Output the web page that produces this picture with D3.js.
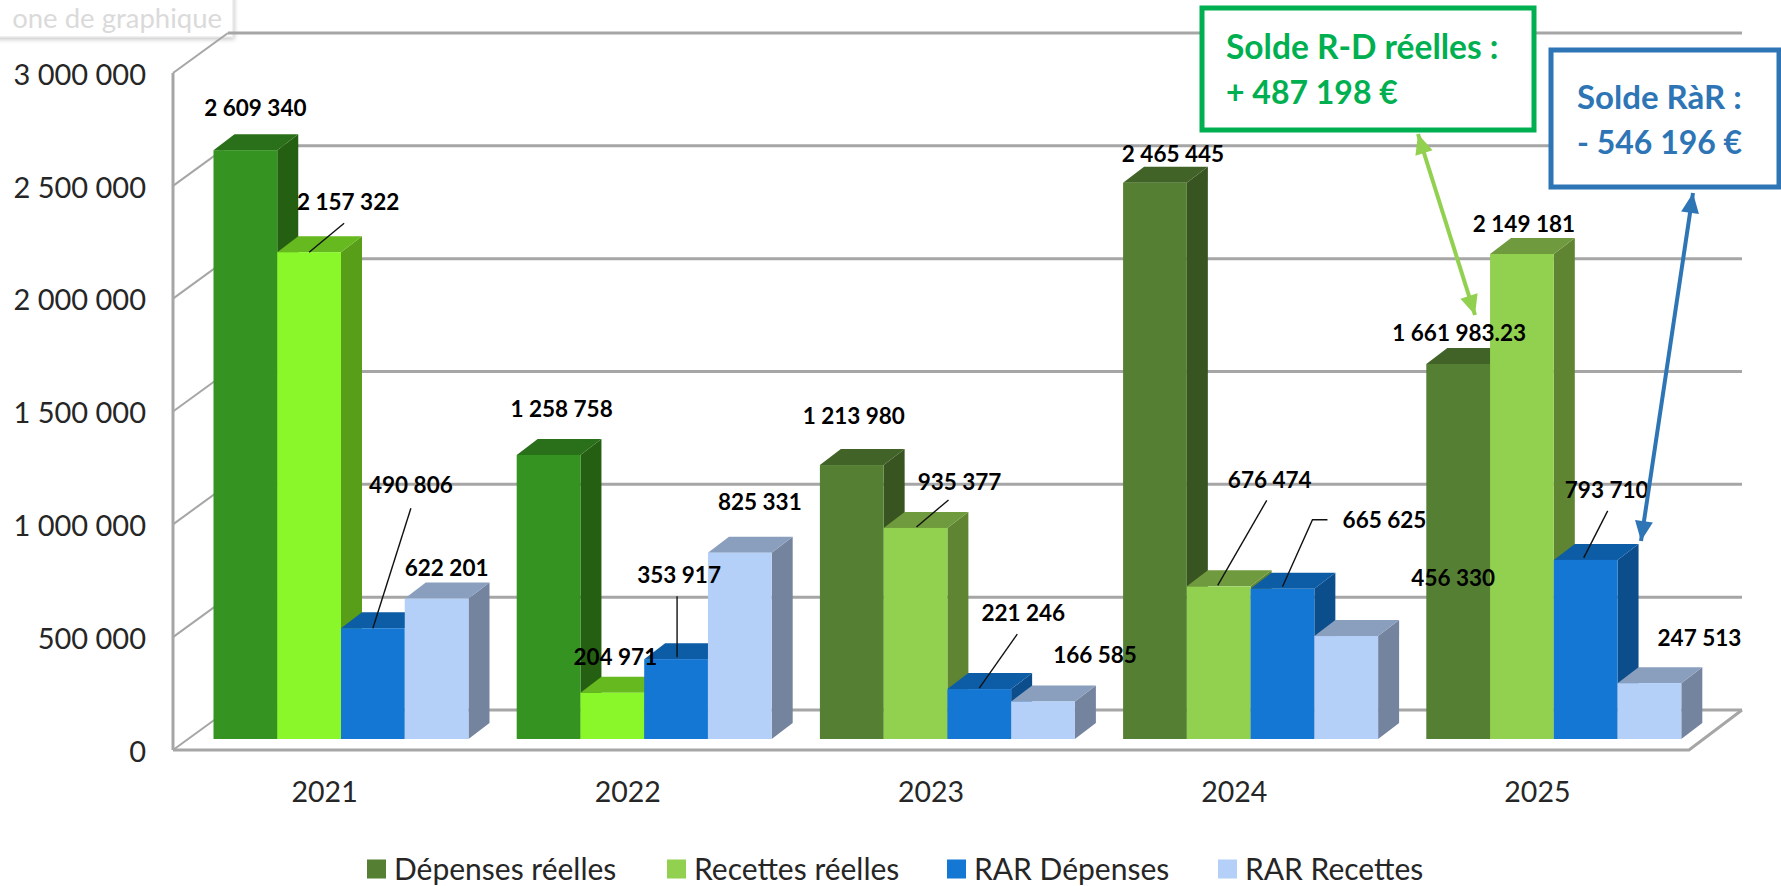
<!DOCTYPE html>
<html lang="fr"><head><meta charset="utf-8">
<script src="https://cdn.jsdelivr.net/npm/d3@7"></script>
<style>html,body{margin:0;padding:0;background:#fff;overflow:hidden}svg{display:block}text{font-family:Lato,"Open Sans",sans-serif}</style>
</head><body><svg id="c" width="1781" height="886"></svg>
<script>
const years=["2021","2022","2023","2024","2025"];
const seriesNames=["Dépenses réelles","Recettes réelles","RAR Dépenses","RAR Recettes"];
const depensesReelles=[2609340,1258758,1213980,2465445,1661983.23];
const recettesReelles=[2157322,204971,935377,676474,2149181];
const rarDepenses=[490806,353917,221246,665625,793710];
const rarRecettes=[622201,825331,166585,456330,247513];
const labelTexts=[
 ["2 609 340","1 258 758","1 213 980","2 465 445","1 661 983.23"],
 ["2 157 322","204 971","935 377","676 474","2 149 181"],
 ["490 806","353 917","221 246","665 625","793 710"],
 ["622 201","825 331","166 585","456 330","247 513"]];
const yTicks=[0,500000,1000000,1500000,2000000,2500000,3000000];
const allValues=[depensesReelles,recettesReelles,rarDepenses,rarRecettes];

// styles
const palette=[
 {front:"#558033",top:"#426327",side:"#385420"},
 {front:"#92d050",top:"#6f9a3d",side:"#5f8533"},
 {front:"#1477d4",top:"#0d5ca6",side:"#0c4e8c"},
 {front:"#b4cff8",top:"#8a9fbe",side:"#74849f"}];
const earlyPalette=[
 {front:"#359322",top:"#2a701a",side:"#245f12"},
 {front:"#8af72a",top:"#66b91f",side:"#589e18"}];
const earlyYears=["2021","2022"];

// label placement relative to the top-centre of each bar's front face [series][year]
const labelOffset=[
 [[10,-42],[13,-46],[2,-49],[18,-29],[1,-31]],
 [[39,-50],[3,-36],[44,-46],[51,-106],[2,-30]],
 [[38,-143],[3,-84],[44,-76],[102,-69],[21,-70]],
 [[10,-30],[20,-51],[52,-46],[107,-58],[50,-45]]];
const leaders=[
 {s:1,y:0,pts:[[0,0],[35,-29]]},
 {s:2,y:0,pts:[[0,0],[38,-120]]},
 {s:2,y:1,pts:[[1,-2],[1,-63]]},
 {s:1,y:2,pts:[[1,-1],[33,-28]]},
 {s:2,y:2,pts:[[0,-1],[38,-55]]},
 {s:1,y:3,pts:[[-1,-1],[48,-86]]},
 {s:2,y:3,pts:[[0,-2],[30,-69],[45,-69]]},
 {s:2,y:4,pts:[[-2,-2],[22,-49]]}];

const svg=d3.select("#c");
const wallDx=55, wallDy=-40, barDx=21, barDy=-16;
const yFront=d3.scaleLinear().domain([0,3000000]).range([750,73]);
const yBar=d3.scaleLinear().domain([0,3000000]).range([739,62]);
const xBand=d3.scaleBand().domain(years).range([173,1689]);
const xSeries=d3.scaleBand().domain(seriesNames).range([40.5,295.5]);
const grid="#a6a6a6";

// placeholder tooltip
const defs=svg.append("defs");
const f=defs.append("filter").attr("id","sh").attr("x","-5%").attr("y","-20%").attr("width","110%").attr("height","150%");
f.append("feDropShadow").attr("dx",1).attr("dy",2).attr("stdDeviation",2).attr("flood-color","#000").attr("flood-opacity",.22);
svg.append("rect").attr("x",-10).attr("y",-10).attr("width",243).attr("height",47).attr("fill","#fff").attr("stroke","#e2e2e2").attr("filter","url(#sh)");
svg.append("text").attr("x",222).attr("y",28).attr("text-anchor","end").attr("font-size",27.5).attr("fill","#dadada").text("one de graphique");

// walls
const gridG=svg.append("g").attr("fill","none").attr("stroke",grid);
gridG.selectAll("line.back").data(yTicks).join("line").attr("class","back")
 .attr("x1",173+wallDx).attr("x2",1689+wallDx+(-2))
 .attr("y1",d=>yFront(d)+wallDy).attr("y2",d=>yFront(d)+wallDy).attr("stroke-width",3);
gridG.selectAll("line.slant").data(yTicks).join("line").attr("class","slant")
 .attr("x1",173).attr("x2",173+wallDx).attr("y1",d=>yFront(d)).attr("y2",d=>yFront(d)+wallDy).attr("stroke-width",2);
gridG.append("line").attr("x1",173).attr("x2",173).attr("y1",yFront(3000000)).attr("y2",yFront(0)).attr("stroke-width",3);
gridG.append("polyline").attr("stroke-width",3)
 .attr("points",[[173,yFront(0)],[1689,yFront(0)],[1687+wallDx,yFront(0)+wallDy]].join(" "));

// axes
const axisY=d3.axisLeft(yFront).tickValues(yTicks).tickSize(0).tickPadding(27)
 .tickFormat(d=>d3.format(",")(d).replace(/,/g," "));
const gy=svg.append("g").attr("transform","translate(173,2)").call(axisY);
gy.select(".domain").remove();
gy.selectAll("text").attr("font-size",29).attr("fill","#262626").style("font-family","Lato");
const axisX=d3.axisBottom(xBand).tickSize(0).tickPadding(0);
const gx=svg.append("g").attr("transform","translate(0,782)").call(axisX);
gx.select(".domain").remove();
gx.selectAll("text").attr("font-size",28.5).attr("fill","#262626").style("font-family","Lato");

// bars
const colorOf=(s,y)=>earlyYears.includes(y)&&earlyPalette[s]?earlyPalette[s]:palette[s];
const barData=[];
years.forEach((yr,yi)=>allValues.forEach((vals,s)=>barData.push({yr,yi,s,v:vals[yi]})));
const xL=d=>xBand(d.yr)+xSeries(seriesNames[d.s]);
const bw=xSeries.bandwidth();
const bars=svg.append("g").selectAll("g").data(barData).join("g");
bars.append("polygon").attr("fill",d=>colorOf(d.s,d.yr).side).attr("points",d=>{
 const x=xL(d)+bw,t=yBar(d.v),b=yBar(0);
 return [[x,t],[x+barDx,t+barDy],[x+barDx,b+barDy],[x,b]].join(" ");});
bars.append("polygon").attr("fill",d=>colorOf(d.s,d.yr).top).attr("points",d=>{
 const x=xL(d),t=yBar(d.v);
 return [[x,t],[x+barDx,t+barDy],[x+bw+barDx,t+barDy],[x+bw,t]].join(" ");});
bars.append("rect").attr("x",xL).attr("y",d=>yBar(d.v)).attr("width",bw)
 .attr("height",d=>yBar(0)-yBar(d.v)).attr("fill",d=>colorOf(d.s,d.yr).front);

// leader lines
const barTop=(s,yi)=>{const yr=years[yi];return [xBand(yr)+xSeries(seriesNames[s])+bw/2,yBar(allValues[s][yi])];};
svg.append("g").selectAll("polyline").data(leaders).join("polyline")
 .attr("fill","none").attr("stroke","#111").attr("stroke-width",1.4)
 .attr("points",d=>{const [x,y]=barTop(d.s,d.y);return d.pts.map(p=>[x+p[0],y+p[1]]).join(" ");});

// data labels
svg.append("g").selectAll("text").data(barData).join("text")
 .attr("x",d=>barTop(d.s,d.yi)[0]+labelOffset[d.s][d.yi][0])
 .attr("y",d=>barTop(d.s,d.yi)[1]+labelOffset[d.s][d.yi][1])
 .attr("dy","0.35em").attr("text-anchor","middle").attr("font-size",22.5).attr("font-weight",700).attr("fill","#000")
 .text(d=>labelTexts[d.s][d.yi]);

// annotations
const annotations=[
 {x:1202,y:8,w:332,h:122,c:"#00b050",lines:["Solde R-D réelles :","+ 487 198 €"],tx:1226,ty:[59,104],fs:[33.5,32]},
 {x:1551,y:50,w:228,h:137,c:"#2e75b6",lines:["Solde RàR :","- 546 196 €"],tx:1577,ty:[109,154],fs:[33,32]}];
const an=svg.append("g").selectAll("g").data(annotations).join("g");
an.append("rect").attr("x",d=>d.x).attr("y",d=>d.y).attr("width",d=>d.w).attr("height",d=>d.h)
 .attr("fill","#fff").attr("stroke",d=>d.c).attr("stroke-width",5);
an.each(function(d){d3.select(this).selectAll("text").data(d.lines).join("text")
 .attr("x",d.tx).attr("y",(l,i)=>d.ty[i]).attr("font-size",(l,i)=>d.fs[i]).attr("font-weight",700).attr("fill",d.c).text(l=>l);});

// arrows
const arrows=[
 {from:[1418,134],to:[1475,315],c:"#92d050"},
 {from:[1693,193],to:[1641,541],c:"#2e75b6"}];
function head(p,q,len,wd){const a=Math.atan2(q[1]-p[1],q[0]-p[0]);
 const b=[q[0]-len*Math.cos(a),q[1]-len*Math.sin(a)];
 const n=[-Math.sin(a)*wd,Math.cos(a)*wd];
 return [q,[b[0]+n[0],b[1]+n[1]],[b[0]-n[0],b[1]-n[1]]].join(" ");}
const ar=svg.append("g").selectAll("g").data(arrows).join("g");
ar.append("line").attr("x1",d=>d.from[0]).attr("y1",d=>d.from[1]).attr("x2",d=>d.to[0]).attr("y2",d=>d.to[1])
 .attr("stroke",d=>d.c).attr("stroke-width",4);
ar.append("polygon").attr("fill",d=>d.c).attr("points",d=>head(d.from,d.to,20,9));
ar.append("polygon").attr("fill",d=>d.c).attr("points",d=>head(d.to,d.from,20,9));

// legend
const legendX=[367,667,947,1218];
const lg=svg.append("g").selectAll("g").data(seriesNames).join("g")
 .attr("transform",(d,i)=>`translate(${legendX[i]},869)`);
lg.append("rect").attr("y",-9.5).attr("width",19).attr("height",19).attr("fill",(d,i)=>palette[i].front);
lg.append("text").attr("x",27).attr("dy","0.35em").attr("font-size",30).attr("fill","#262626").text(d=>d);
</script></body></html>
